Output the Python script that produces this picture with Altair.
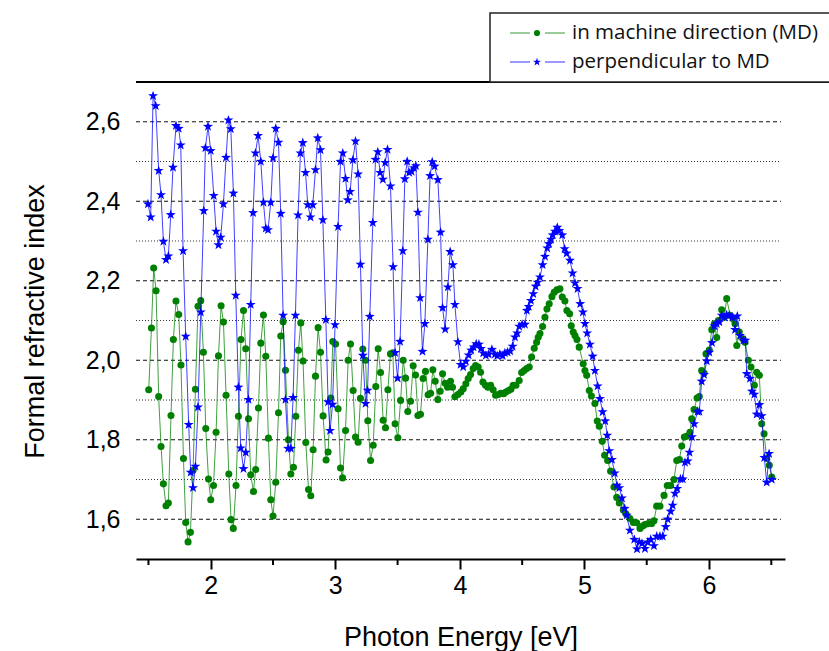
import altair as alt
import pandas as pd

# ---------------- data ----------------
# perpendicular to MD : (photon energy eV, formal refractive index)
perp = [
    (1.496, 2.393), (1.518, 2.360), (1.537, 2.665), (1.558, 2.640), (1.582, 2.477), (1.601, 2.416),
    (1.620, 2.299), (1.641, 2.253), (1.660, 2.262), (1.679, 2.366), (1.697, 2.485), (1.721, 2.590),
    (1.743, 2.583), (1.759, 2.541), (1.778, 2.275), (1.799, 2.060), (1.823, 1.838), (1.839, 1.718),
    (1.858, 1.679), (1.877, 1.733), (1.898, 1.882), (1.920, 2.121), (1.944, 2.376), (1.957, 2.534),
    (1.978, 2.588), (2.000, 2.527), (2.024, 2.414), (2.043, 2.324), (2.062, 2.290), (2.080, 2.309),
    (2.102, 2.393), (2.123, 2.510), (2.142, 2.604), (2.161, 2.582), (2.182, 2.420), (2.201, 2.163),
    (2.222, 1.932), (2.241, 1.779), (2.263, 1.727), (2.281, 1.768), (2.303, 1.901), (2.321, 2.140),
    (2.340, 2.371), (2.359, 2.521), (2.380, 2.565), (2.402, 2.500), (2.423, 2.397), (2.442, 2.332),
    (2.460, 2.328), (2.482, 2.397), (2.500, 2.509), (2.522, 2.583), (2.544, 2.548), (2.562, 2.369),
    (2.581, 2.113), (2.600, 1.901), (2.621, 1.778), (2.643, 1.778), (2.661, 1.906), (2.680, 2.113),
    (2.701, 2.365), (2.720, 2.521), (2.739, 2.547), (2.761, 2.472), (2.779, 2.391), (2.801, 2.360),
    (2.819, 2.391), (2.841, 2.479), (2.859, 2.559), (2.881, 2.529), (2.900, 2.353), (2.924, 2.102),
    (2.942, 1.895), (2.958, 1.823), (2.978, 1.889), (2.998, 2.089), (3.022, 2.336), (3.042, 2.500),
    (3.060, 2.521), (3.082, 2.457), (3.100, 2.403), (3.119, 2.424), (3.141, 2.504), (3.162, 2.551),
    (3.183, 2.468), (3.202, 2.241), (3.221, 2.012), (3.243, 1.891), (3.259, 1.924), (3.277, 2.110),
    (3.301, 2.346), (3.323, 2.505), (3.341, 2.524), (3.360, 2.472), (3.382, 2.455), (3.400, 2.497),
    (3.419, 2.530), (3.443, 2.438), (3.464, 2.235), (3.480, 2.019), (3.500, 1.955), (3.520, 2.047),
    (3.542, 2.275), (3.558, 2.456), (3.577, 2.500), (3.593, 2.472), (3.612, 2.475), (3.631, 2.484),
    (3.647, 2.489), (3.663, 2.372), (3.681, 2.157), (3.700, 2.022), (3.719, 2.092), (3.743, 2.304),
    (3.761, 2.464), (3.778, 2.499), (3.797, 2.488), (3.823, 2.454), (3.845, 2.322), (3.861, 2.132),
    (3.882, 2.078), (3.904, 2.184), (3.922, 2.273), (3.944, 2.240), (3.960, 2.140), (3.984, 2.046),
    (4.006, 1.989), (4.027, 1.983), (4.048, 1.997), (4.070, 2.013), (4.091, 2.025), (4.110, 2.033),
    (4.131, 2.041), (4.153, 2.040), (4.169, 2.029), (4.187, 2.018), (4.209, 2.012), (4.231, 2.015),
    (4.257, 2.027), (4.281, 2.015), (4.300, 2.011), (4.321, 2.015), (4.343, 2.011), (4.361, 2.018),
    (4.383, 2.020), (4.404, 2.023), (4.423, 2.035), (4.442, 2.058), (4.460, 2.068), (4.476, 2.085),
    (4.500, 2.090), (4.522, 2.090), (4.538, 2.125), (4.552, 2.135), (4.570, 2.150), (4.589, 2.167),
    (4.608, 2.186), (4.624, 2.196), (4.643, 2.209), (4.664, 2.240), (4.683, 2.261), (4.701, 2.282),
    (4.715, 2.293), (4.731, 2.304), (4.745, 2.315), (4.763, 2.324), (4.782, 2.334), (4.798, 2.326),
    (4.822, 2.315), (4.841, 2.280), (4.857, 2.269), (4.884, 2.251), (4.905, 2.219), (4.924, 2.194),
    (4.945, 2.180), (4.966, 2.142), (4.988, 2.121), (5.004, 2.092), (5.022, 2.068), (5.044, 2.040),
    (5.066, 2.010), (5.084, 1.974), (5.106, 1.935), (5.124, 1.903), (5.146, 1.870), (5.167, 1.847),
    (5.183, 1.811), (5.199, 1.772), (5.221, 1.750), (5.243, 1.716), (5.261, 1.685), (5.280, 1.679),
    (5.301, 1.653), (5.323, 1.627), (5.339, 1.610), (5.365, 1.572), (5.400, 1.549), (5.422, 1.525),
    (5.440, 1.543), (5.462, 1.539), (5.486, 1.526), (5.508, 1.542), (5.532, 1.549), (5.558, 1.533),
    (5.580, 1.557), (5.606, 1.557), (5.628, 1.557), (5.652, 1.581), (5.668, 1.600), (5.692, 1.620),
    (5.708, 1.635), (5.727, 1.665), (5.745, 1.677), (5.770, 1.701), (5.789, 1.701), (5.807, 1.743),
    (5.829, 1.746), (5.843, 1.768), (5.863, 1.807), (5.881, 1.840), (5.908, 1.871), (5.922, 1.871),
    (5.941, 1.947), (5.960, 1.964), (5.982, 1.998), (6.002, 2.020), (6.024, 2.044), (6.043, 2.086),
    (6.062, 2.092), (6.083, 2.096), (6.102, 2.113), (6.123, 2.108), (6.142, 2.114), (6.163, 2.113),
    (6.187, 2.108), (6.209, 2.077), (6.227, 2.111), (6.249, 2.062), (6.276, 2.050), (6.292, 2.050),
    (6.303, 1.966), (6.329, 1.954), (6.345, 1.922), (6.364, 1.914), (6.383, 1.864), (6.404, 1.888),
    (6.423, 1.860), (6.444, 1.755), (6.463, 1.693), (6.482, 1.765), (6.504, 1.700),
]

# in machine direction (MD)
md = [
    (1.502, 1.926), (1.524, 2.081), (1.542, 2.232), (1.561, 2.175), (1.582, 1.909), (1.601, 1.783),
    (1.620, 1.689), (1.641, 1.634), (1.660, 1.641), (1.681, 1.861), (1.700, 2.052), (1.721, 2.149),
    (1.743, 2.115), (1.761, 1.988), (1.781, 1.753), (1.799, 1.592), (1.818, 1.543), (1.837, 1.567),
    (1.858, 1.723), (1.877, 1.927), (1.898, 2.136), (1.920, 2.150), (1.941, 2.020), (1.960, 1.828),
    (1.982, 1.701), (2.000, 1.649), (2.022, 1.685), (2.043, 1.819), (2.062, 2.011), (2.083, 2.137),
    (2.102, 2.096), (2.123, 1.912), (2.145, 1.714), (2.163, 1.599), (2.181, 1.577), (2.203, 1.685),
    (2.222, 1.859), (2.243, 2.052), (2.263, 2.125), (2.281, 2.029), (2.303, 1.853), (2.321, 1.712),
    (2.343, 1.670), (2.361, 1.725), (2.383, 1.880), (2.402, 2.043), (2.423, 2.114), (2.442, 2.010),
    (2.463, 1.804), (2.482, 1.649), (2.500, 1.608), (2.522, 1.693), (2.544, 1.868), (2.562, 2.061),
    (2.581, 2.097), (2.600, 1.975), (2.624, 1.800), (2.643, 1.714), (2.664, 1.731), (2.683, 1.859),
    (2.704, 2.025), (2.723, 2.094), (2.741, 1.998), (2.763, 1.793), (2.785, 1.675), (2.803, 1.659),
    (2.822, 1.775), (2.841, 1.960), (2.862, 2.082), (2.881, 2.020), (2.902, 1.860), (2.926, 1.749),
    (2.942, 1.769), (2.964, 1.905), (2.980, 2.047), (3.002, 2.041), (3.022, 1.878), (3.042, 1.729),
    (3.058, 1.704), (3.082, 1.823), (3.103, 2.000), (3.122, 2.041), (3.143, 1.924), (3.162, 1.807),
    (3.183, 1.794), (3.202, 1.904), (3.221, 2.028), (3.243, 2.000), (3.261, 1.848), (3.283, 1.748),
    (3.304, 1.786), (3.325, 1.934), (3.344, 2.029), (3.363, 1.969), (3.384, 1.849), (3.403, 1.830),
    (3.422, 1.926), (3.443, 2.016), (3.462, 2.019), (3.480, 1.840), (3.502, 1.805), (3.524, 1.899),
    (3.545, 2.000), (3.564, 1.955), (3.582, 1.871), (3.604, 1.897), (3.625, 1.986), (3.644, 1.963),
    (3.663, 1.861), (3.684, 1.864), (3.705, 1.954), (3.724, 1.972), (3.745, 1.913), (3.765, 1.917),
    (3.783, 1.976), (3.802, 1.947), (3.823, 1.901), (3.842, 1.922), (3.861, 1.966), (3.882, 1.942),
    (3.901, 1.932), (3.925, 1.947), (3.941, 1.932), (3.960, 1.908), (3.984, 1.914), (4.008, 1.920),
    (4.027, 1.928), (4.048, 1.941), (4.067, 1.954), (4.086, 1.964), (4.107, 1.979), (4.126, 1.987),
    (4.147, 1.983), (4.166, 1.970), (4.185, 1.945), (4.206, 1.937), (4.225, 1.932), (4.247, 1.937),
    (4.267, 1.926), (4.287, 1.912), (4.308, 1.914), (4.329, 1.917), (4.351, 1.916), (4.369, 1.920),
    (4.391, 1.924), (4.410, 1.927), (4.428, 1.937), (4.450, 1.937), (4.476, 1.949), (4.496, 1.969),
    (4.516, 1.974), (4.536, 1.979), (4.557, 1.983), (4.576, 2.008), (4.597, 2.030), (4.616, 2.045),
    (4.629, 2.058), (4.643, 2.067), (4.664, 2.085), (4.683, 2.108), (4.699, 2.129), (4.717, 2.142),
    (4.739, 2.160), (4.757, 2.171), (4.779, 2.177), (4.803, 2.180), (4.822, 2.159), (4.843, 2.149),
    (4.859, 2.125), (4.881, 2.117), (4.894, 2.087), (4.910, 2.071), (4.924, 2.062), (4.940, 2.052),
    (4.958, 2.033), (4.990, 1.991), (5.004, 1.974), (5.018, 1.962), (5.039, 1.924), (5.056, 1.910),
    (5.084, 1.891), (5.103, 1.847), (5.119, 1.834), (5.143, 1.796), (5.162, 1.761), (5.186, 1.748),
    (5.210, 1.721), (5.237, 1.681), (5.259, 1.655), (5.280, 1.641), (5.312, 1.623), (5.333, 1.614),
    (5.365, 1.602), (5.392, 1.592), (5.419, 1.591), (5.446, 1.577), (5.468, 1.583), (5.486, 1.587),
    (5.512, 1.589), (5.540, 1.589), (5.558, 1.596), (5.580, 1.633), (5.606, 1.633), (5.639, 1.660),
    (5.665, 1.685), (5.692, 1.685), (5.719, 1.700), (5.741, 1.748), (5.762, 1.750), (5.781, 1.784),
    (5.802, 1.807), (5.821, 1.809), (5.847, 1.819), (5.861, 1.853), (5.880, 1.876), (5.904, 1.905),
    (5.922, 1.909), (5.941, 1.974), (5.960, 1.968), (5.976, 2.016), (6.002, 2.026), (6.022, 2.077),
    (6.043, 2.092), (6.062, 2.057), (6.075, 2.100), (6.102, 2.127), (6.123, 2.108), (6.142, 2.155),
    (6.169, 2.113), (6.195, 2.104), (6.209, 2.092), (6.223, 2.037), (6.243, 2.071), (6.271, 2.054),
    (6.289, 2.045), (6.316, 2.000), (6.337, 1.983), (6.364, 1.937), (6.383, 1.970), (6.404, 1.962),
    (6.423, 1.840), (6.442, 1.815), (6.463, 1.753), (6.484, 1.736), (6.504, 1.706),
]

series_names = ["in machine direction (MD)", "perpendicular to MD"]
major_grid = [1.6, 1.8, 2.0, 2.2, 2.4, 2.6]
minor_grid = [1.7, 1.9, 2.1, 2.3, 2.5]
x_major_ticks = [2, 3, 4, 5, 6]
x_minor_ticks = [1.5, 2.5, 3.5, 4.5, 5.5, 6.5]

# five-pointed star symbol (unit [-1,1] path, Vega custom shape)
STAR = ("M0,-1L0.235,-0.324L0.951,-0.309L0.380,0.124L0.588,0.809L0,0.4"
        "L-0.588,0.809L-0.380,0.124L-0.951,-0.309L-0.235,-0.324Z")

# ---------------- tables ----------------
df_md = pd.DataFrame(md, columns=["E", "n"])
df_perp = pd.DataFrame(perp, columns=["E", "n"])
df_major = pd.DataFrame({"n": major_grid})
df_minor = pd.DataFrame({"n": minor_grid})
df_xminor = pd.DataFrame({"E": x_minor_ticks})
one = pd.DataFrame({"k": [0]})

GREEN = "#008000"
BLUE = "#0000ff"
FONT = "Liberation Sans"

xscale = alt.Scale(domain=[1.4, 6.61], nice=False, zero=False)
yscale = alt.Scale(domain=[1.5, 2.7], nice=False, zero=False)

xaxis = alt.Axis(
    title="Photon Energy [eV]", values=x_major_ticks, format="d", grid=False, orient="bottom",
    domainColor="black", domainWidth=2, tickColor="black", tickWidth=2, tickSize=10,
    labelFont=FONT, labelFontSize=25, labelColor="black", labelPadding=4,
    titleFont=FONT, titleFontSize=27, titleFontWeight="normal", titleColor="black",
    titleBaseline="alphabetic", titleY=86,
)
yaxis = alt.Axis(
    title="Formal refractive index", values=major_grid, grid=False, domain=False, ticks=False,
    orient="left",
    labelExpr="replace(format(datum.value, '.1f'), '.', ',')",
    labelFont=FONT, labelFontSize=25, labelColor="black", labelPadding=16,
    titleFont=FONT, titleFontSize=27, titleFontWeight="normal", titleColor="black",
    titleBaseline="alphabetic", titleX=-93, titleY=239,
)

X = alt.X("E:Q", scale=xscale, axis=xaxis)
Y = alt.Y("n:Q", scale=yscale, axis=yaxis)

grid_major = alt.Chart(df_major).mark_rule(color="#111111", strokeWidth=1, strokeDash=[4, 3]).encode(
    y=Y, x=alt.value(0), x2=alt.value(645))
grid_minor = alt.Chart(df_minor).mark_rule(color="#333333", strokeWidth=1, strokeDash=[1, 2]).encode(
    y=Y, x=alt.value(0), x2=alt.value(645))

xminor = alt.Chart(df_xminor).mark_rule(color="black", strokeWidth=2).encode(
    x=X, y=alt.value(477), y2=alt.value(483))

md_line = alt.Chart(df_md).mark_line(color=GREEN, strokeWidth=1.0, opacity=0.75).encode(x=X, y=Y)
md_pts = alt.Chart(df_md).mark_point(shape="circle", filled=True, size=50, color=GREEN, opacity=1).encode(x=X, y=Y)
pp_line = alt.Chart(df_perp).mark_line(color=BLUE, strokeWidth=1.0, opacity=0.75).encode(x=X, y=Y)
pp_pts = alt.Chart(df_perp).mark_point(shape=STAR, filled=True, size=110, color=BLUE, opacity=1).encode(x=X, y=Y)

top_line = alt.Chart(one).mark_rule(color="black", strokeWidth=2).encode(
    x=alt.value(0), x2=alt.value(700), y=alt.value(0))

# legend box
leg_box = alt.Chart(one).mark_rect(fill="white", stroke="#222222", strokeWidth=1.5).encode(
    x=alt.value(354), x2=alt.value(760), y=alt.value(-69), y2=alt.value(0))
leg_layers = [leg_box]
rows = [(-49, GREEN, "circle", 38, series_names[0]), (-20, BLUE, STAR, 70, series_names[1])]
for yy, col, shp, sz, label in rows:
    leg_layers.append(alt.Chart(one).mark_rule(color=col, strokeWidth=1, opacity=0.8).encode(
        x=alt.value(374), x2=alt.value(394), y=alt.value(yy)))
    leg_layers.append(alt.Chart(one).mark_rule(color=col, strokeWidth=1, opacity=0.8).encode(
        x=alt.value(409), x2=alt.value(429), y=alt.value(yy)))
    leg_layers.append(alt.Chart(one).mark_point(shape=shp, filled=True, size=sz, color=col, opacity=1).encode(
        x=alt.value(401), y=alt.value(yy)))
    leg_layers.append(alt.Chart(one).mark_text(
        text=label, align="left", baseline="middle", font="Open Sans", fontSize=20.5, color="#111111").encode(
        x=alt.value(436), y=alt.value(yy)))

chart = alt.layer(
    grid_minor, grid_major, xminor, md_line, md_pts, pp_line, pp_pts, top_line, *leg_layers
).properties(
    width=649, height=477,
    padding={"left": 136, "top": 82, "right": 44, "bottom": 92},
    autosize=alt.AutoSizeParams(type="none"),
    background="white",
).configure(view=alt.ViewConfig(stroke="transparent", strokeWidth=0, strokeOpacity=0))

chart.save("out.html", embed_options={"renderer": "svg", "actions": False})
